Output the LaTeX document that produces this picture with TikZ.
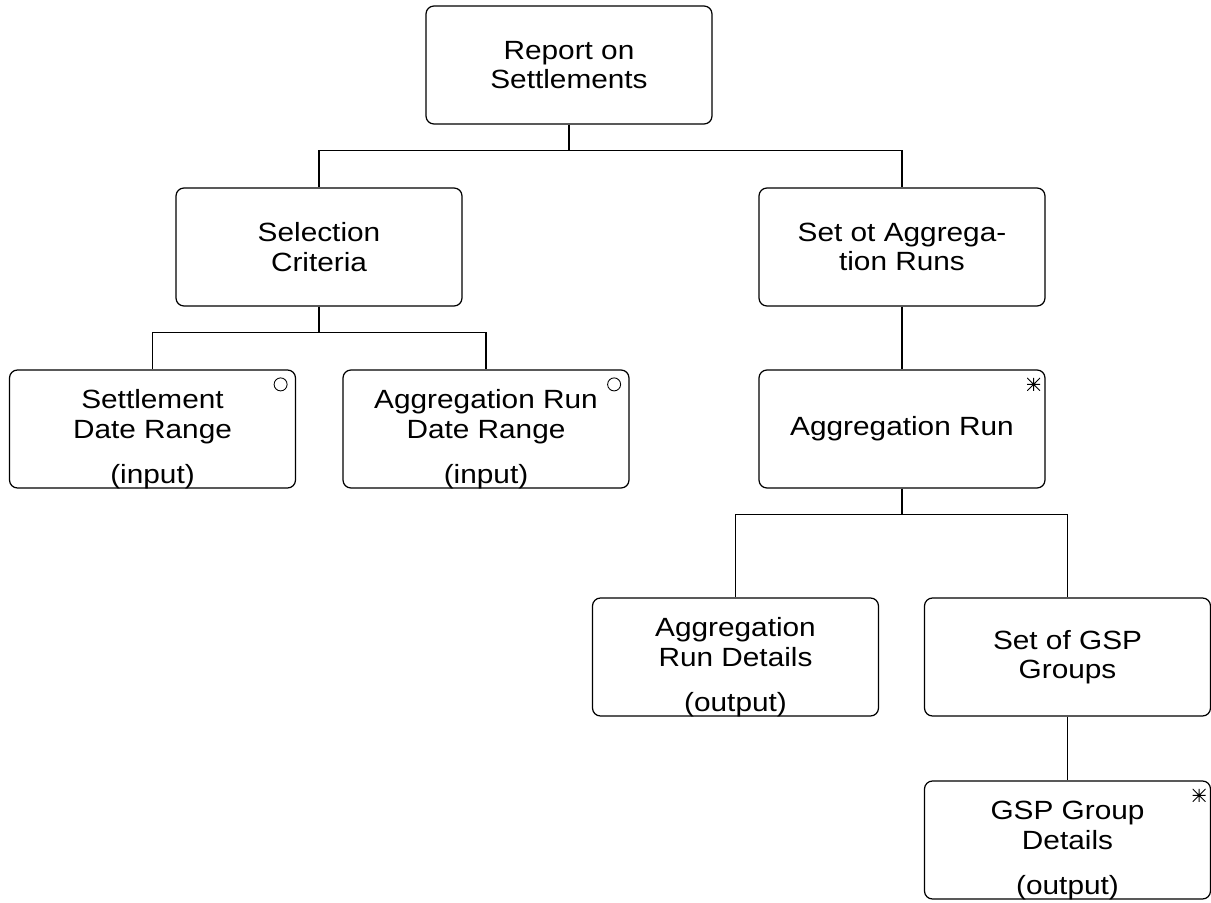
\documentclass[tikz,border=0pt]{standalone}
\usepackage{fontspec}
\setmainfont{Liberation Sans}[FakeStretch=1.13]

% box text with a lower (input)/(output) line
\newcommand{\iotext}[2]{\raisebox{-0.22cm}[\height][\depth]{\begin{tabular}{@{}c@{}}#1\\[9pt]#2\end{tabular}}}

\begin{document}
\begin{tikzpicture}[line width=0.7pt,
	box/.style = {draw, rounded corners=0.16cm, minimum width=5.72cm, minimum height=2.36cm, align=center, font=\fontsize{15}{16.8}\selectfont},
	opt/.style = {label={[draw, circle, inner sep=0pt, minimum size=0.26cm, line width=0.5pt, anchor=center, xshift=-0.31cm, yshift=-0.30cm]north east:{}}},
	many/.style = {label={[inner sep=0pt, minimum size=0.26cm, anchor=center, xshift=-0.24cm, yshift=-0.30cm,
		path picture={\draw[line width=0.5pt] (path picture bounding box.north) -- (path picture bounding box.south)
			(path picture bounding box.east) -- (path picture bounding box.west)
			(path picture bounding box.north east) -- (path picture bounding box.south west)
			(path picture bounding box.north west) -- (path picture bounding box.south east);}]north east:{}}}]
	\useasboundingbox (0,0) rectangle (24.22,-18.04);

	\node [box] (report) at (11.38,-1.30) {Report on\\Settlements};
	\node [box] (sel) at (6.38,-4.94) {Selection\\Criteria};
	\node [box] (setagg) at (18.04,-4.94) {Set ot Aggrega-\\tion Runs};
	\node [box, opt] (sdr) at (3.05,-8.58) {\iotext{Settlement\\Date Range}{(input)}};
	\node [box, opt] (ardr) at (9.72,-8.58) {\iotext{Aggregation Run\\Date Range}{(input)}};
	\node [box, many] (aggrun) at (18.04,-8.58) {Aggregation Run};
	\node [box] (ard) at (14.71,-13.14) {\iotext{Aggregation\\Run Details}{(output)}};
	\node [box] (gspset) at (21.35,-13.14) {Set of GSP\\Groups};
	\node [box, many] (gspd) at (21.35,-16.80) {\iotext{GSP Group\\Details}{(output)}};

	\draw (report.south) -- ++(0,-0.52) -| (sel.north);
	\draw (report.south) -- ++(0,-0.52) -| (setagg.north);
	\draw (sel.south) -- ++(0,-0.52) -| (sdr.north);
	\draw (sel.south) -- ++(0,-0.52) -| (ardr.north);
	\draw (setagg) -- (aggrun);
	\draw (aggrun.south) -- ++(0,-0.52) -| (ard.north);
	\draw (aggrun.south) -- ++(0,-0.52) -| (gspset.north);
	\draw (gspset) -- (gspd);
\end{tikzpicture}
\end{document}
